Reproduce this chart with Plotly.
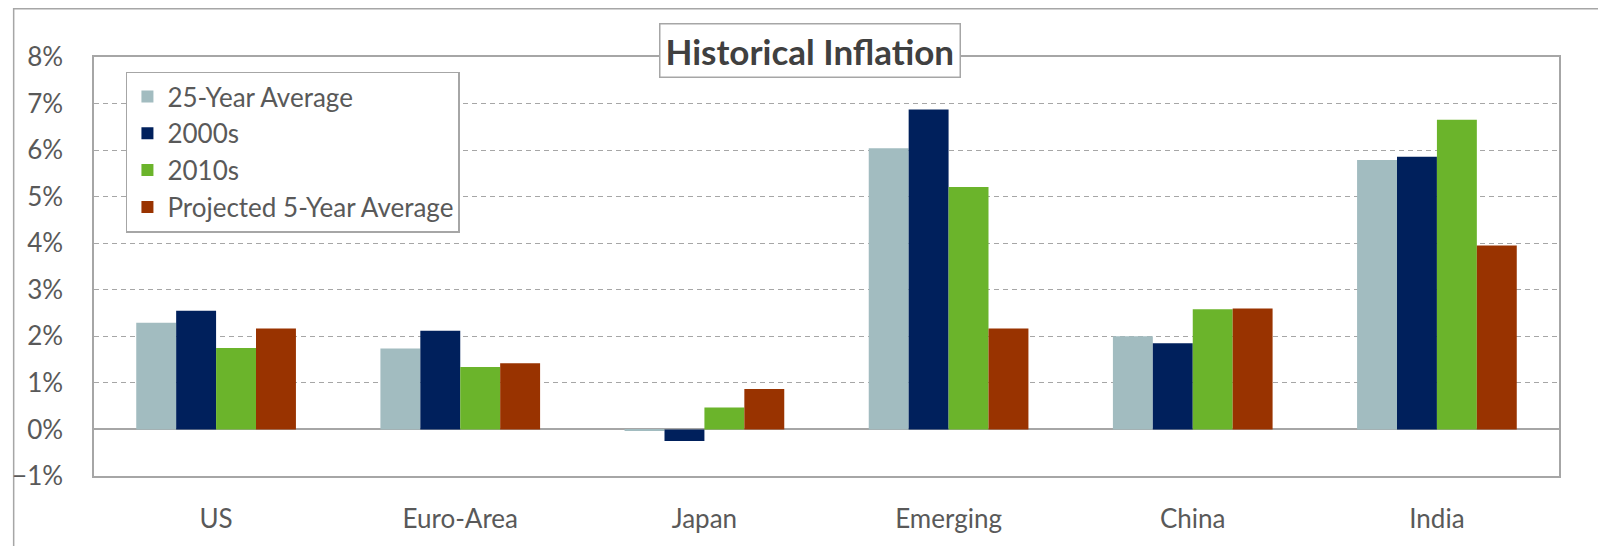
import plotly.graph_objects as go

categories = ["US", "Euro-Area", "Japan", "Emerging", "China", "India"]
avg25 = [2.29, 1.74, -0.03, 6.04, 2.00, 5.79]
s2000 = [2.55, 2.12, -0.25, 6.87, 1.85, 5.86]
s2010 = [1.75, 1.34, 0.47, 5.21, 2.58, 6.65]
proj5 = [2.17, 1.42, 0.87, 2.17, 2.60, 3.95]
series_names = ["25-Year Average", "2000s", "2010s", "Projected 5-Year Average"]
colors = ["#A2BCC0", "#00205C", "#6BB42B", "#993300"]

FONT = "Lato"
TXT = "#595959"
GRID = "#A6A6A6"

W, H = 1598, 546
L, R, T, B = 91, 39, 57, 59
pw, ph = W - L - R, H - T - B


def px(x):
    return (x - L) / pw


def py(y):
    return (H - B - y) / ph


fig = go.Figure()
for name, vals, c in zip(series_names, [avg25, s2000, s2010, proj5], colors):
    fig.add_trace(go.Bar(x=categories, y=vals, name=name, marker_color=c,
                         marker_line_width=0, legendgroup=name))

fig.update_layout(
    width=W, height=H,
    margin=dict(l=L, r=R, t=T, b=B, pad=0),
    paper_bgcolor="white", plot_bgcolor="white",
    barmode="group", bargap=0.346, bargroupgap=0,
    font=dict(family=FONT, color=TXT, size=26),
    showlegend=True,
    legend=dict(x=px(123), y=py(72), xanchor="left", yanchor="top",
                bordercolor=GRID, borderwidth=1.5, bgcolor="white",
                font=dict(size=26, color=TXT), tracegroupgap=0,
                traceorder="normal", itemwidth=30),
    xaxis=dict(showline=True, linecolor=GRID, linewidth=1.5, mirror=True,
               ticks="", showgrid=False, tickfont=dict(size=26, color=TXT),
               ticklabelstandoff=19),
    yaxis=dict(range=[-1, 8], dtick=1, ticksuffix="%", showline=True,
               linecolor=GRID, linewidth=1.5, mirror=True, ticks="",
               showgrid=True, gridcolor=GRID, griddash="5px,4px", gridwidth=1,
               zeroline=True, zerolinecolor=GRID, zerolinewidth=1.5,
               tickfont=dict(size=26, color=TXT), ticklabelstandoff=24),
    shapes=[dict(type="rect", xref="paper", yref="paper",
                 x0=px(10.5), x1=px(1610), y0=py(560), y1=py(7.5),
                 line=dict(color=GRID, width=1.5), fillcolor="rgba(0,0,0,0)",
                 layer="below")],
    annotations=[dict(text="<b>Historical Inflation</b>", xref="paper", yref="paper",
                      x=px(808.5), y=py(50), xanchor="center", yanchor="middle",
                      showarrow=False, font=dict(size=35, color="#404040", family=FONT),
                      bgcolor="white", bordercolor=GRID, borderwidth=1.5,
                      borderpad=5)],
)

fig.write_html("out.html")
